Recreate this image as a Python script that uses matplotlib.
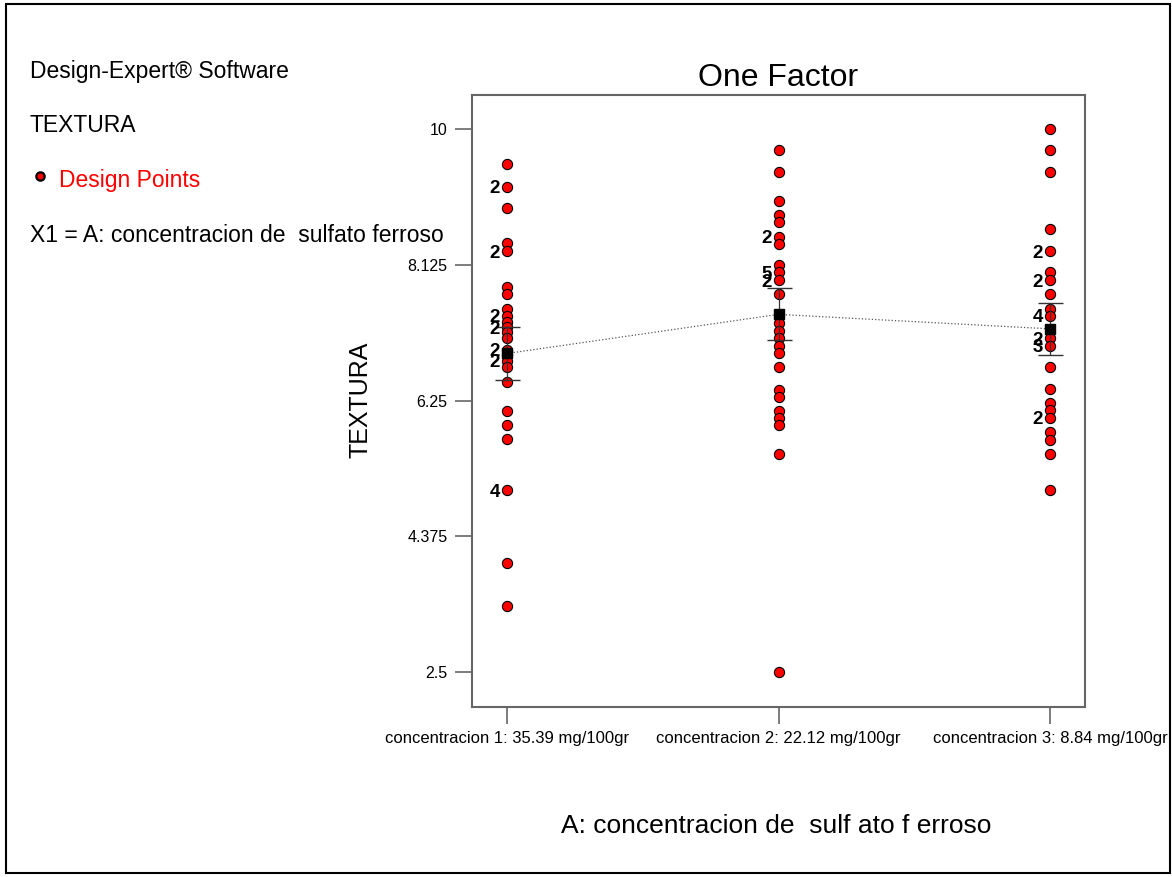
import matplotlib.pyplot as plt
from matplotlib.lines import Line2D
from matplotlib.patches import Rectangle

plt.rcParams['font.family'] = ['Liberation Sans', 'DejaVu Sans']

# factor levels
levels = ['concentracion 1: 35.39 mg/100gr',
          'concentracion 2: 22.12 mg/100gr',
          'concentracion 3: 8.84 mg/100gr']

# observed TEXTURA values (unique values and how many runs share them)
c1_values = [9.52, 9.20, 8.91, 8.42, 8.31, 7.82, 7.72, 7.51, 7.42, 7.34, 7.26, 7.19,
             7.11, 6.95, 6.88, 6.80, 6.71, 6.51, 6.11, 5.91, 5.72, 5.01, 4.01, 3.41]
c1_counts = [1, 2, 1, 1, 2, 1, 1, 1, 2, 1, 2, 1,
             1, 2, 1, 2, 1, 1, 1, 1, 1, 4, 1, 1]

c2_values = [9.71, 9.41, 9.01, 8.81, 8.72, 8.51, 8.41, 8.12, 8.02, 7.91, 7.72, 7.32,
             7.21, 7.11, 7.00, 6.91, 6.72, 6.40, 6.30, 6.11, 6.01, 5.91, 5.51, 2.50]
c2_counts = [1, 1, 1, 1, 1, 2, 1, 1, 5, 2, 1, 1,
             1, 1, 1, 1, 1, 1, 1, 1, 1, 1, 1, 1]

c3_values = [10.0, 9.71, 9.41, 8.62, 8.31, 8.02, 7.91, 7.72, 7.51, 7.42, 7.11, 7.01,
             6.72, 6.41, 6.21, 6.12, 6.01, 5.81, 5.71, 5.51, 5.01]
c3_counts = [1, 1, 1, 1, 2, 1, 2, 1, 1, 4, 2, 3,
             1, 1, 1, 1, 2, 1, 1, 1, 1]

# predicted means and LSD half widths
means = [6.90, 7.44, 7.24]
lsd_half = [0.36, 0.36, 0.36]

yticks = [2.5, 4.375, 6.25, 8.125, 10]
ytick_labels = ['2.5', '4.375', '6.25', '8.125', '10']

W, H = 1172, 877
fig = plt.figure(figsize=(W / 100, H / 100), dpi=100)
ax = fig.add_axes([472 / W, 1 - 707 / H, (1085 - 472) / W, (707 - 95) / H])

groups = [(c1_values, c1_counts), (c2_values, c2_counts), (c3_values, c3_counts)]
for i, (vals, counts) in enumerate(groups):
    ax.scatter([i] * len(vals), vals, s=54, c='red', edgecolors='black',
               linewidths=0.8, zorder=3)
    for v, n in zip(vals, counts):
        if n > 1:
            ax.annotate(str(n), (i, v), xytext=(-5, 0), textcoords='offset points',
                        ha='right', va='center_baseline', fontsize=13.5,
                        fontweight='bold', color='black', zorder=5)

x = list(range(len(levels)))
ax.plot(x, means, linestyle=':', color='#555555', linewidth=0.9, zorder=4)
ax.errorbar(x, means, yerr=lsd_half, fmt='none', ecolor='#333333',
            elinewidth=0.9, capsize=9, capthick=1.0, zorder=4)
ax.plot(x, means, linestyle='none', marker='s', markersize=7,
        color='black', zorder=6)

ax.set_xlim(-0.129, 2.129)
ax.set_ylim(2.017, 10.47)
ax.set_xticks(x)
ax.set_xticklabels(levels, fontsize=12)
ax.set_yticks(yticks)
ax.set_yticklabels(ytick_labels, fontsize=11.5)
for s in ax.spines.values():
    s.set_color('#666666')
    s.set_linewidth(1.5)
ax.tick_params(axis='both', direction='out', length=12.5, width=1.2,
               color='#666666', labelcolor='black')
ax.tick_params(axis='x', pad=5)
ax.tick_params(axis='y', pad=5)

# side notes
fig.text(30 / W, 1 - 78 / H, 'Design-Expert® Software', fontsize=16.5, va='baseline')
fig.text(30 / W, 1 - 132 / H, 'TEXTURA', fontsize=16.5, va='baseline')
fig.add_artist(Line2D([40 / W], [1 - 176 / H], marker='o', markersize=6,
                      markerfacecolor='red', markeredgecolor='black',
                      markeredgewidth=1.6, transform=fig.transFigure))
fig.text(59 / W, 1 - 187 / H, 'Design Points', fontsize=16.5, color='red', va='baseline')
fig.text(30 / W, 1 - 242 / H, 'X1 = A: concentracion de  sulfato ferroso',
         fontsize=16.5, va='baseline')

fig.text(778 / W, 1 - 86 / H, 'One Factor', ha='center', va='baseline', fontsize=23)
fig.text(360 / W, 1 - 400 / H, 'TEXTURA', rotation=90, ha='center', va='center', fontsize=18)
fig.text(776 / W, 1 - 833 / H, 'A: concentracion de  sulf ato f erroso',
         ha='center', va='baseline', fontsize=19)

fig.add_artist(Rectangle((6 / W, 4 / H), (1170 - 6) / W, (873 - 4) / H,
                         transform=fig.transFigure, fill=False,
                         edgecolor='black', linewidth=1.5, zorder=10))

fig.savefig('out.png', dpi=100)
